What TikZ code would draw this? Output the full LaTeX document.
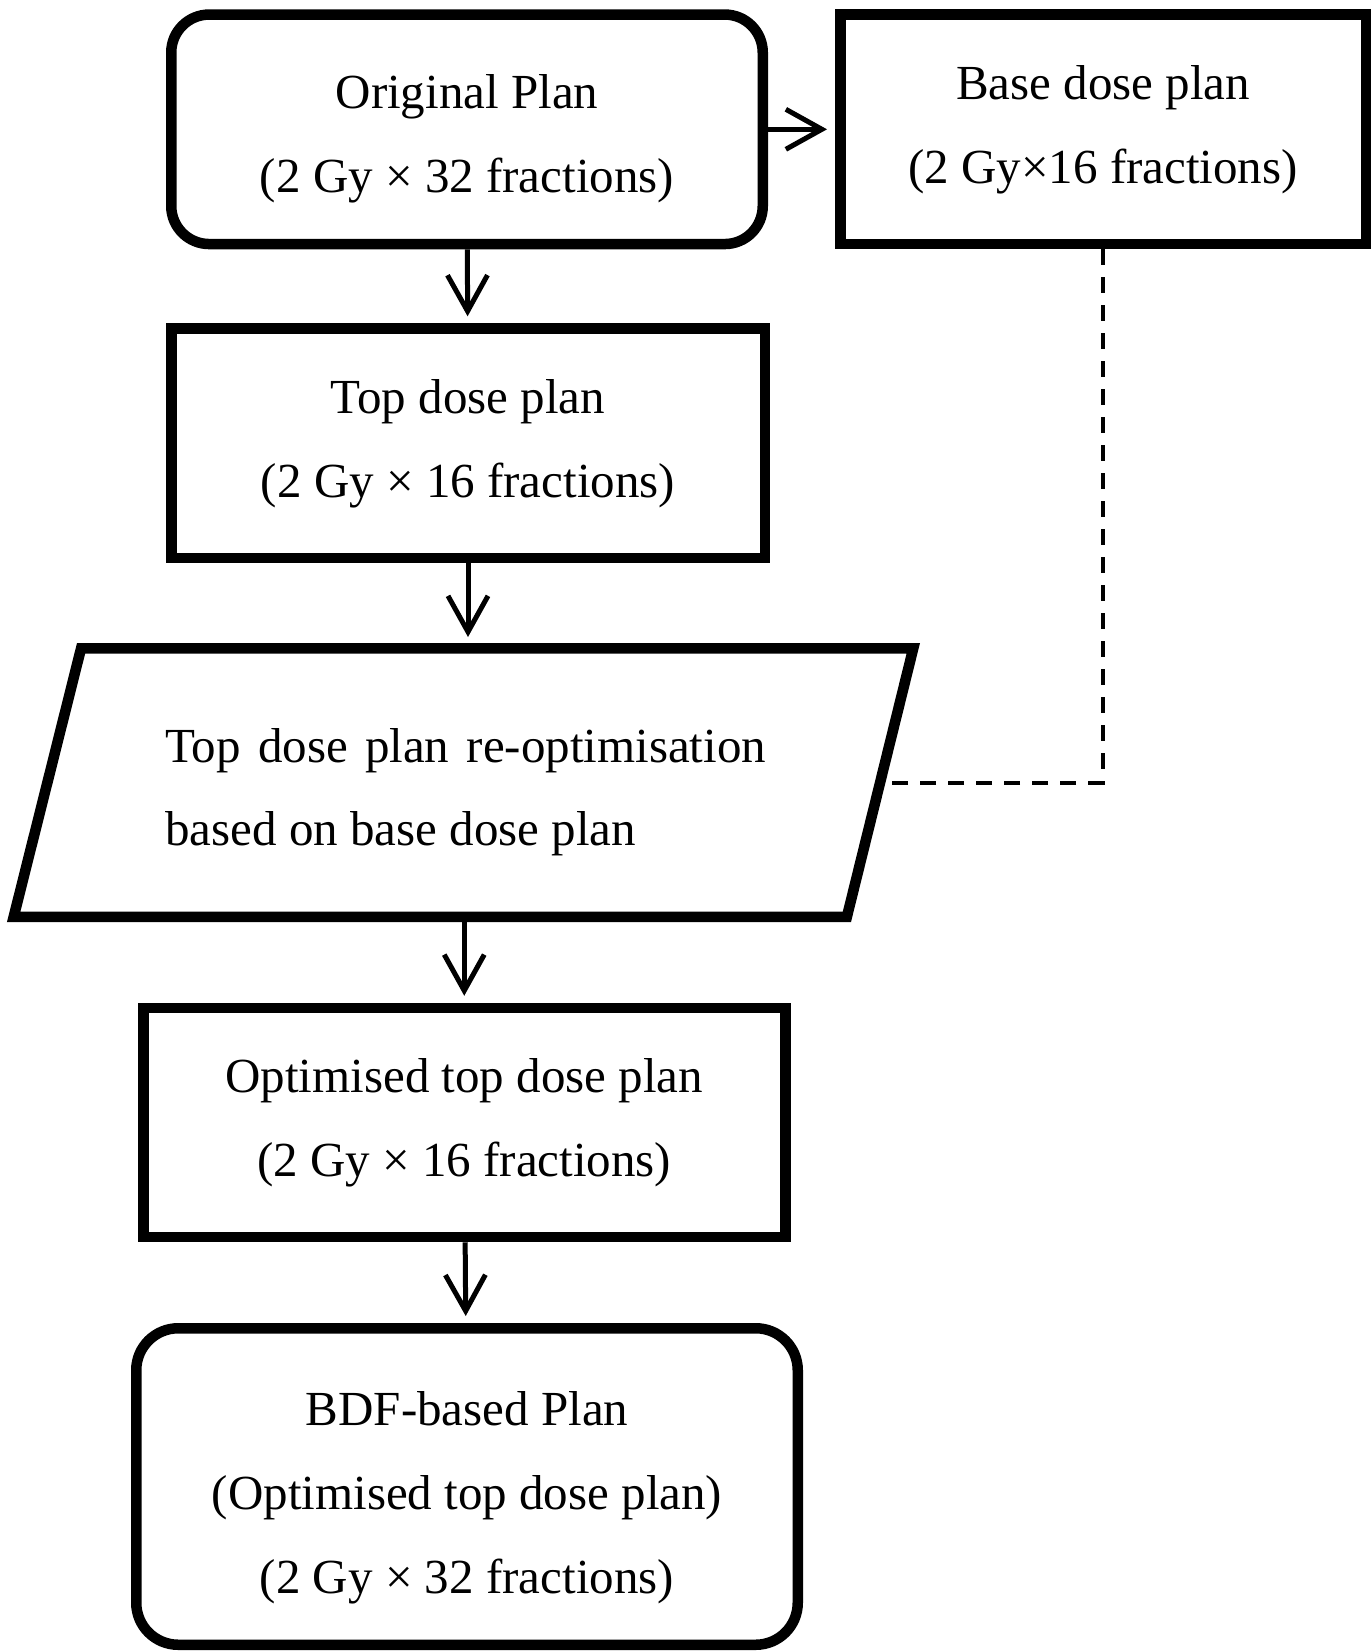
\documentclass[tikz,border=0pt]{standalone}
\usepackage{fontspec}
\setmainfont{Liberation Serif}
\usetikzlibrary{arrows.meta}
\tikzset{
  txt/.style={font=\fontsize{49}{84}\selectfont},
  box/.style={draw=black, line width=10.5pt, inner sep=0pt, align=center, txt},
  rbox/.style={box, rounded corners=38pt},
  flow/.style={line width=5pt, -{Straight Barb[length=36pt,width=40pt]}, shorten >=7pt},
  dashlink/.style={line width=4pt, dash pattern=on 16pt off 12pt},
}
\begin{document}
\begin{tikzpicture}[x=1pt,y=-1pt]
\useasboundingbox (0,0) rectangle (1372,1652);

\node[rbox, minimum width=591.5pt, minimum height=229.5pt] (orig) at (467,129.3)
  {\rule{0pt}{52pt}Original Plan\\(2 Gy × 32 fractions)};
\node[box, minimum width=525.5pt, minimum height=229.5pt] (base) at (1103,129.3)
  {Base dose plan\\(2 Gy×16 fractions)};
\node[box, minimum width=593.5pt, minimum height=229.5pt] (top) at (468,443.3)
  {Top dose plan\\(2 Gy × 16 fractions)};

\coordinate (pTL) at (81.1,648.25);
\coordinate (pTR) at (913.3,648.25);
\coordinate (pBR) at (846.9,916.75);
\coordinate (pBL) at (13.7,916.75);
\coordinate (pE) at (885.5,782.5);
\draw[line width=10.5pt] (pTL) -- (pTR) -- (pBR) -- (pBL) -- cycle;
\node[txt, anchor=base west, inner sep=0pt] (ptextA) at (165,762)
  {\hbox to 601pt{Top\hfill dose\hfill plan\hfill re-optimisation}};
\node[txt, anchor=base west, inner sep=0pt] (ptextB) at (165,845)
  {based on base dose plan};

\node[box, minimum width=642pt, minimum height=229pt] (opt) at (464.25,1122.5)
  {Optimised top dose plan\\(2 Gy × 16 fractions)};
\node[rbox, rounded corners=42pt, minimum width=661.5pt, minimum height=316.5pt] (bdf) at (467,1486.5)
  {\rule{0pt}{57.5pt}BDF-based Plan\\(Optimised top dose plan)\\(2 Gy × 32 fractions)};

\draw[flow] (orig) -- (top);
\draw[flow, shorten >=8pt] (orig) -- (base);
\draw[flow, shorten >=11.25pt] (top.south) -- (top.south |- pTL);
\draw[flow, shorten <=5.25pt] (opt.north |- pBL) -- (opt.north);
\draw[flow] (opt) -- (bdf);
\draw[dashlink] (base.south) -- (base.south |- pE) -- (pE);
\end{tikzpicture}
\end{document}
